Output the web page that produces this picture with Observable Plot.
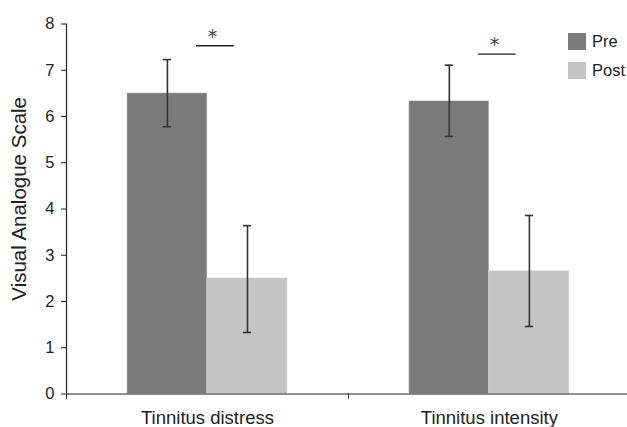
<!DOCTYPE html>
<html>
<head>
<meta charset="utf-8">
<script src="https://cdn.jsdelivr.net/npm/d3@7"></script>
<script src="https://cdn.jsdelivr.net/npm/@observablehq/plot@0.6"></script>
<style>
  html, body { margin: 0; padding: 0; background: #fff; }
  #wrap { position: relative; width: 627px; height: 427px; font-family: "Liberation Sans", Arial, sans-serif; }
  .legend { position: absolute; left: 568px; top: 33px; font-size: 16.5px; color: #222; }
  .legend .row { display: flex; align-items: center; height: 17px; margin-bottom: 12px; }
  .legend .sw { width: 18px; height: 17px; margin-right: 6px; }
</style>
</head>
<body>
<div id="wrap"></div>
<script>
// ---- data ----
const categories = ["Tinnitus distress", "Tinnitus intensity"];
const series = ["Pre", "Post"];
const preMean = [6.5, 6.33];
const preLow = [5.78, 5.57];
const preHigh = [7.23, 7.11];
const postMean = [2.5, 2.66];
const postLow = [1.33, 1.46];
const postHigh = [3.64, 3.86];
const sigLevel = [7.53, 7.35];
const sigLabel = ["*", "*"];
const yTicks = [0, 1, 2, 3, 4, 5, 6, 7, 8];
const yTitle = "Visual Analogue Scale";
const colors = ["#7b7b7b", "#c4c5c4"];

// ---- build table ----
const barW = 0.284;  // fraction of category slot
const rows = [];
categories.forEach((c, i) => {
  rows.push({cat: c, i, s: "Pre", v: preMean[i], lo: preLow[i], hi: preHigh[i], x1: i + 0.5 - barW, x2: i + 0.5});
  rows.push({cat: c, i, s: "Post", v: postMean[i], lo: postLow[i], hi: postHigh[i], x1: i + 0.5, x2: i + 0.5 + barW});
});
rows.forEach(r => r.xm = (r.x1 + r.x2) / 2);
const capHalf = 0.0145;
const sigHalf = 0.067;
const sigs = categories.map((c, i) => ({i, y: sigLevel[i], label: sigLabel[i]}));
const font = "'Liberation Sans', Arial, sans-serif";

const plot = Plot.plot({
  width: 627,
  height: 427,
  marginLeft: 66,
  marginRight: 0,
  marginTop: 23.5,
  marginBottom: 33.5,
  style: {fontFamily: font, background: "#fff", color: "#222"},
  x: {type: "linear", domain: [0, 1.99], axis: null},
  y: {domain: [0, 8], axis: null},
  color: {domain: series, range: colors},
  marks: [
    Plot.rectY(rows, {x1: "x1", x2: "x2", y1: 0, y2: "v", fill: "s", stroke: "#e6e6e6", strokeWidth: 0.5}),
    Plot.ruleX(rows, {x: "xm", y1: "lo", y2: "hi", stroke: "#333", strokeWidth: 1.6}),
    Plot.ruleY(rows, {y: "hi", x1: d => d.xm - capHalf, x2: d => d.xm + capHalf, stroke: "#333", strokeWidth: 1.6}),
    Plot.ruleY(rows, {y: "lo", x1: d => d.xm - capHalf, x2: d => d.xm + capHalf, stroke: "#333", strokeWidth: 1.6}),
    // significance bars
    Plot.ruleY(sigs, {y: "y", x1: d => d.i + 0.528 - sigHalf, x2: d => d.i + 0.528 + sigHalf, stroke: "#222", strokeWidth: 1.3}),
    Plot.text(sigs, {x: d => d.i + 0.518, y: "y", text: "label", dy: -3, lineAnchor: "bottom", fontSize: 19, fontFamily: "DejaVu Sans", fill: "#444"}),
    // axes
    Plot.ruleX([0], {stroke: "#222", strokeWidth: 1.2}),
    Plot.ruleY([0], {stroke: "#222", strokeWidth: 1.2}),
    Plot.axisY({ticks: yTicks, tickSize: 5, tickPadding: 7, fontSize: 16.5, stroke: "#222", tickFormat: d => String(d), label: null}),
    Plot.axisX({ticks: [0, 1], tickSize: 5, tickFormat: () => "", label: null}),
    Plot.text(categories, {x: (d, i) => i + 0.5, y: 0, text: d => d, dy: 24, lineAnchor: "middle", fontSize: 18.5, fill: "#222"}),
    Plot.text([yTitle], {x: 0, y: 4.22, text: d => d, dx: -47, rotate: -90, textAnchor: "middle", lineAnchor: "middle", fontSize: 20.5, fill: "#222"})
  ]
});

const wrap = document.getElementById("wrap");
wrap.appendChild(plot);
const leg = document.createElement("div");
leg.className = "legend";
series.forEach((s, i) => {
  const row = document.createElement("div");
  row.className = "row";
  const sw = document.createElement("div");
  sw.className = "sw";
  sw.style.background = colors[i];
  const t = document.createElement("span");
  t.textContent = s;
  row.appendChild(sw); row.appendChild(t);
  leg.appendChild(row);
});
wrap.appendChild(leg);
plot.style.position = "absolute";
plot.style.left = "0"; plot.style.top = "0";
</script>
</body>
</html>
